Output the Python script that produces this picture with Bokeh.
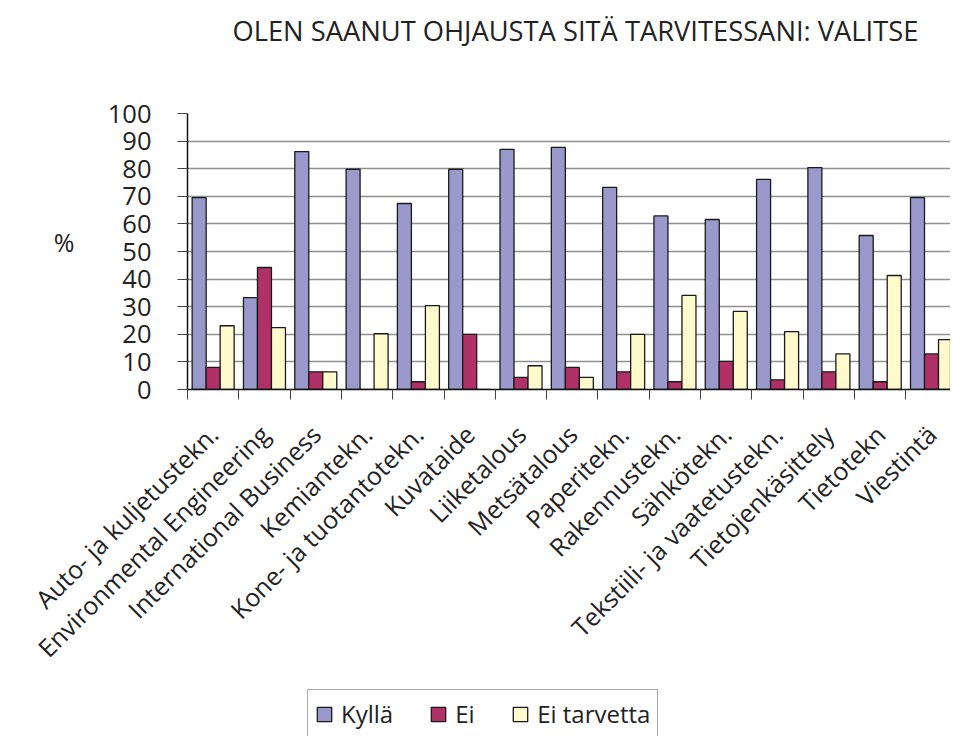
import math
from bokeh.plotting import figure
from bokeh.layouts import column
from bokeh.models import (Range1d, FixedTicker, Legend, LegendItem, LinearAxis, ColumnDataSource)
from bokeh.embed import file_html
from bokeh.resources import INLINE

categories = ["Auto- ja kuljetustekn.", "Environmental Engineering", "International Business",
              "Kemiantekn.", "Kone- ja tuotantotekn.", "Kuvataide", "Liiketalous", "Metsätalous",
              "Paperitekn.", "Rakennustekn.", "Sähkötekn.", "Tekstiili- ja vaatetustekn.",
              "Tietojenkäsittely", "Tietotekn", "Viestintä"]
kylla = [69.5, 33.3, 86.2, 79.8, 67.4, 79.8, 87.0, 87.7, 73.2, 62.9, 61.6, 76.1, 80.4, 55.8, 69.5]
ei = [8.0, 44.2, 6.4, 0.0, 2.8, 20.0, 4.4, 8.0, 6.4, 2.8, 10.2, 3.5, 6.4, 2.8, 12.9]
ei_tarvetta = [23.1, 22.4, 6.4, 20.2, 30.4, 0.0, 8.6, 4.4, 20.0, 34.1, 28.3, 21.0, 12.9, 41.3, 18.1]
series_names = ["Kyllä", "Ei", "Ei tarvetta"]
series_colors = ["#9999CC", "#B03068", "#FFF9CC"]
y_ticks = list(range(0, 101, 10))
title_text = "OLEN SAANUT OHJAUSTA SITÄ TARVITESSANI: VALITSE"
y_unit = "%"

FONT = "Open Sans"
TXT = "#222222"
OUTLINE = "#1a1a1a"
n = len(categories)
centers = [i + 0.5 for i in range(n)]
bw = 0.273

W = 950
H_MAIN = 680
H_LEG = 56

p = figure(width=W, height=H_MAIN, output_backend="svg", toolbar_location=None,
           x_range=Range1d(0, 14.87), y_range=Range1d(0, 100),
           min_border_left=187, min_border_right=0, min_border_top=113,
           min_border_bottom=H_MAIN - 113 - 276)
p.outline_line_color = None
p.background_fill_color = "white"
p.border_fill_color = "white"
xa = p.below[0]
ya = p.left[0]

sources = []
for k, (vals, col) in enumerate(zip([kylla, ei, ei_tarvetta], series_colors)):
    src = ColumnDataSource(dict(x=[c + (k - 1) * bw for c in centers], top=vals))
    sources.append(src)
    p.vbar(x="x", top="top", width=bw, bottom=0, source=src,
           fill_color=col, line_color=OUTLINE, line_width=1.3)

# y axis
ya.ticker = FixedTicker(ticks=y_ticks)
ya.major_tick_out = 10
ya.major_tick_in = 0
ya.minor_tick_line_color = None
ya.major_tick_line_color = "#444444"
ya.axis_line_color = "#111111"
ya.axis_line_width = 1.5
ya.major_label_standoff = 26
ya.major_label_text_font = FONT
ya.major_label_text_font_size = "25.5px"
ya.major_label_text_color = TXT

# x axis: labels at category centres, tick marks between categories
xa.ticker = FixedTicker(ticks=centers, minor_ticks=list(range(n + 1)))
xa.major_label_overrides = {c: name for c, name in zip(centers, categories)}
xa.major_tick_line_color = None
xa.minor_tick_out = 10
xa.minor_tick_in = 0
xa.minor_tick_line_color = "#444444"
xa.axis_line_color = "#111111"
xa.axis_line_width = 1.5
xa.major_label_orientation = math.pi / 4
xa.major_label_standoff = 30
xa.major_label_text_font = FONT
xa.major_label_text_font_size = "25px"
xa.major_label_text_color = TXT

# "%" unit label as an extra left axis
unit_axis = LinearAxis(ticker=FixedTicker(ticks=[53.5]), major_label_overrides={53.5: y_unit},
                       axis_line_color=None, major_tick_line_color=None, minor_tick_line_color=None,
                       major_label_standoff=24, major_label_text_font=FONT,
                       major_label_text_font_size="25px", major_label_text_color=TXT)
p.add_layout(unit_axis, "left")

# title as an axis above the frame
title_axis = LinearAxis(ticker=FixedTicker(ticks=[7.56]), major_label_overrides={7.56: title_text},
                        axis_line_color=None, major_tick_line_color=None, minor_tick_line_color=None,
                        major_label_standoff=59, major_label_text_font=FONT,
                        major_label_text_font_size="27.3px", major_label_text_color=TXT)
p.add_layout(title_axis, "above")

p.xgrid.grid_line_color = None
p.ygrid.grid_line_color = "#8f8f8f"
p.ygrid.grid_line_width = 1.3

# legend in its own strip below the chart (its renderers are hidden, only the swatches show)
lg = figure(width=W, height=H_LEG, output_backend="svg", toolbar_location=None,
            x_range=Range1d(0, 14.87), y_range=Range1d(0, 100),
            x_axis_location=None, y_axis_location=None, min_border=0)
lg.outline_line_color = None
lg.xgrid.grid_line_color = None
lg.ygrid.grid_line_color = None
lg.background_fill_color = "white"
lg.border_fill_color = "white"
leg_renderers = []
for src, col in zip(sources, series_colors):
    leg_renderers.append(lg.vbar(x="x", top="top", width=bw, bottom=0, source=src,
                                 fill_color=col, line_color=OUTLINE, line_width=1.3,
                                 visible=False))
legend = Legend(items=[LegendItem(label=nm, renderers=[r]) for nm, r in zip(series_names, leg_renderers)],
                orientation="horizontal", location=(120, -2))
legend.label_text_font = FONT
legend.label_text_font_size = "24px"
legend.label_text_color = TXT
legend.glyph_width = 18
legend.glyph_height = 18
legend.label_standoff = 8
legend.spacing = 36
legend.padding = 7
legend.margin = 0
legend.border_line_color = "#555555"
legend.border_line_width = 1
legend.background_fill_color = "white"
lg.add_layout(legend)

open("out.html", "w").write(file_html(column(p, lg), INLINE))
